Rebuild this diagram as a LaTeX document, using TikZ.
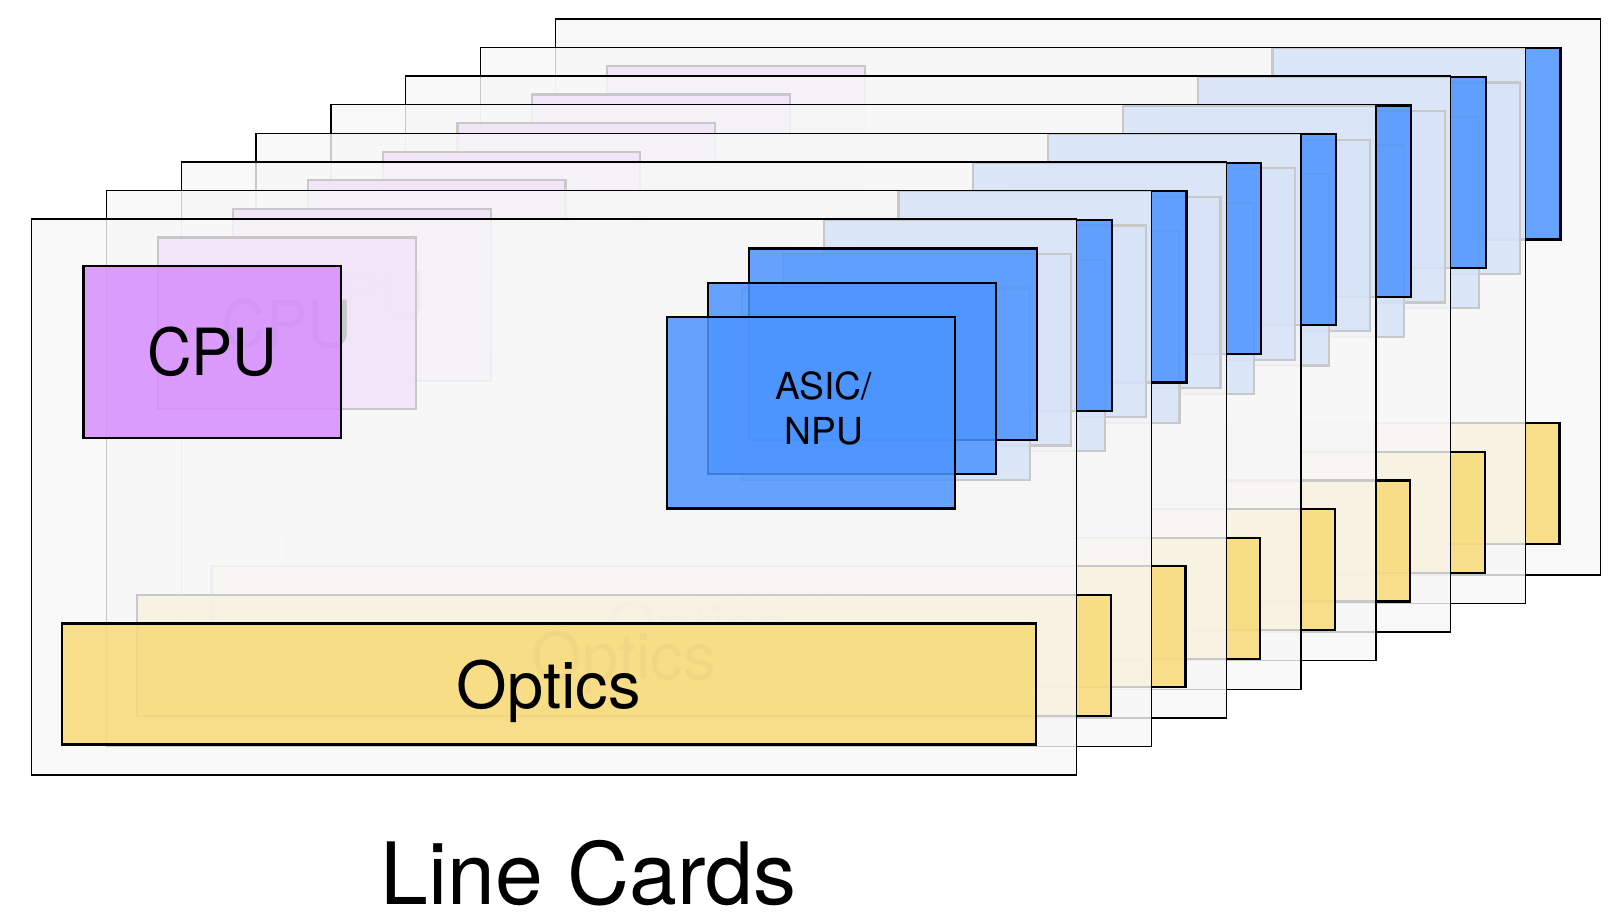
\documentclass[tikz,border=0pt]{standalone}
\usepackage{fontspec}
\setmainfont{TeX Gyre Heros}
\newfontfamily\cpufont{TeX Gyre Heros}[FakeStretch=0.95]
\usetikzlibrary{positioning}

\definecolor{cardgray}{HTML}{F7F7F7}
\definecolor{cpupurple}{HTML}{D78EFC}
\definecolor{asicblue}{HTML}{4C94FF}
\definecolor{opticsyellow}{HTML}{F9DA78}

\tikzset{
  card/.style={fill=cardgray, fill opacity=0.81, draw=black, line width=0.7pt},
  part/.style={draw=black, line width=1.1pt, fill opacity=0.85, text opacity=1,
    inner sep=0pt, anchor=north west},
  cpubox/.style={part, fill=cpupurple, minimum width=128.85pt, minimum height=85.85pt,
    font=\cpufont\fontsize{32.5}{39}\selectfont},
  asicbox/.style={part, fill=asicblue, minimum width=144pt, minimum height=95.65pt},
  opticsbox/.style={part, fill=opticsyellow, minimum width=487pt, minimum height=60.5pt,
    text depth=0pt, font=\fontsize{32.5}{39}\selectfont},
  chiptext/.style={align=center, inner sep=0pt, font=\fontsize{18.6}{22.85}\selectfont},
}

\begin{document}
\begin{tikzpicture}[x=0.5pt, y=-0.5pt]
            \useasboundingbox (0,0) rectangle (1615,923);

            \foreach \k in {7,6,...,0}{
              \begin{scope}[shift={(31.7+74.8*\k, 219-28.6*\k)}]
                \filldraw[card] (0,0) rectangle (1045,556);
                \node[cpubox] (cpu\k) at (50.6,46) {CPU};
                \node[asicbox] (asicC\k) at (716,28.3) {};
                \node[asicbox] (asicB\k) at (675.3,62.6) {};
                \node[asicbox] (asicA\k) at (634.3,97) {};
                \node[chiptext] (npu\k) at ([shift={(12.5,-4.2)}]asicA\k.center) {ASIC/\\NPU};
                \node[opticsbox] (optics\k) at (29,403.3) {Optics};
              \end{scope}
            }

            \node[font=\fontsize{43}{50}\selectfont, text depth=0pt] (title) at (588.7,872.5) {Line Cards};
        \end{tikzpicture}
\end{document}
